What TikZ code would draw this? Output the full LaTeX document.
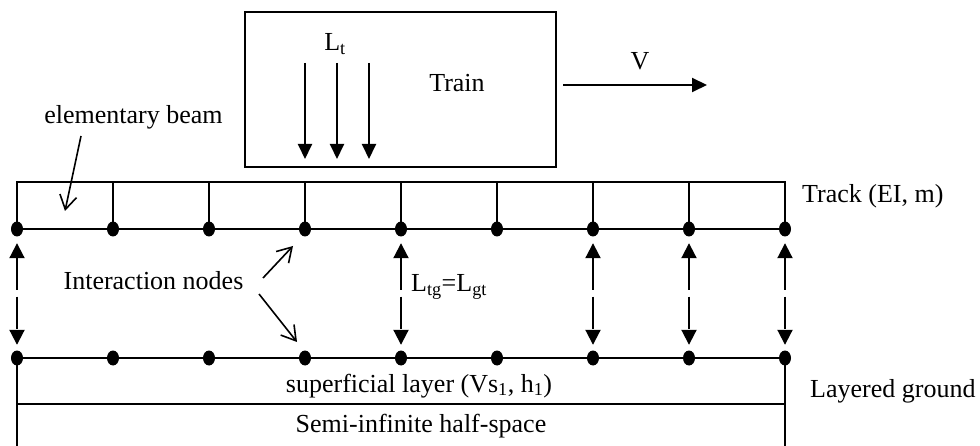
\documentclass[tikz,border=0pt]{standalone}
\usepackage{fontspec}
\setmainfont{Liberation Serif}
\usetikzlibrary{arrows.meta,shapes.geometric}
\begin{document}
\begin{tikzpicture}[x=1pt,y=-1pt,
  every node/.style={font=\fontsize{26}{31}\selectfont},
  lbl/.style={inner sep=0pt},
  dotnode/.style={ellipse, fill=black, minimum width=12pt, minimum height=15pt, inner sep=0pt},
  ln/.style={line width=2pt},
  bigtip/.style={line width=2pt, -{Triangle[length=15pt,width=14pt]}},
  dbl/.style={line width=2pt, {Triangle[length=15pt,width=15pt]}-{Triangle[length=15pt,width=15pt]}, dash pattern=on 32pt off 7pt},
  barb/.style={line width=1.6pt, -{Straight Barb[length=14pt,width=17pt]}}
]
\useasboundingbox (0,0) rectangle (980,446);

% train
\node[draw, line width=2pt, minimum width=311pt, minimum height=155pt, inner sep=0pt] (train) at (400.5,89.5) {};
\node[lbl, anchor=base] (traintxt) at (457,91.7) {Train};
\node[lbl, anchor=base] (lt) at (335,50.7) {L\textsubscript{t}};
\foreach \x [count=\k] in {305,337,369} {
  \coordinate (la\k) at (\x,63);
  \coordinate (lb\k) at (\x,159);
  \draw[bigtip] (la\k) -- (lb\k);
}
\coordinate (va) at (563,85);
\coordinate (vb) at (707,85);
\draw[bigtip] (va) -- (vb);
\node[lbl, anchor=base] (v) at (640,70) {V};

% dots
\foreach \i in {0,...,8} {
  \node[dotnode] (t\i) at ({17+96*\i},229) {};
  \node[dotnode] (g\i) at ({17+96*\i},358) {};
}

% track
\coordinate (tl) at (17,182);
\coordinate (tr) at (785,182);
\draw[ln] (t0.center) -- (tl) -- (tr) -- (t8.center) -- cycle;
\foreach \i in {1,...,7} {
  \draw[ln] (t\i.center) -- (t\i.center |- tl);
}
\node[lbl, anchor=base west] (track) at (802,203) {Track (EI, m)};

% elementary beam
\node[lbl, anchor=base] (eb) at (133.5,124) {elementary beam};
\coordinate (eba) at (81,136);
\coordinate (ebb) at (65,211);
\draw[barb] (eba) -- (ebb);

% ground
\coordinate (bl) at (17,446);
\coordinate (br) at (785,446);
\coordinate (ll) at (17,404);
\coordinate (lr) at (785,404);
\draw[ln] (bl) -- (g0.center) -- (g8.center) -- (br);
\draw[line width=2.8pt] (ll) -- (lr);
\node[lbl, anchor=base] (sup) at (419,392) {superficial layer (Vs\textsubscript{1}, h\textsubscript{1})};
\node[lbl, anchor=base] (semi) at (421,432) {Semi-infinite half-space};
\node[lbl, anchor=base west] (lg) at (810,397) {Layered ground};

% interaction arrows
\foreach \i in {0,4,6,7,8} {
  \draw[dbl, shorten <=6.5pt, shorten >=5.5pt] (t\i.south) -- (g\i.north);
}
\node[lbl, anchor=base west] (ltg) at (411,292) {L\textsubscript{tg}=L\textsubscript{gt}};

\node[lbl, anchor=base] (inodes) at (153.5,290) {Interaction nodes};
\coordinate (ia1) at (263,278);
\coordinate (ib1) at (293,246);
\coordinate (ia2) at (259,294);
\coordinate (ib2) at (297,342);
\draw[barb] (ia1) -- (ib1);
\draw[barb] (ia2) -- (ib2);
\end{tikzpicture}
\end{document}
